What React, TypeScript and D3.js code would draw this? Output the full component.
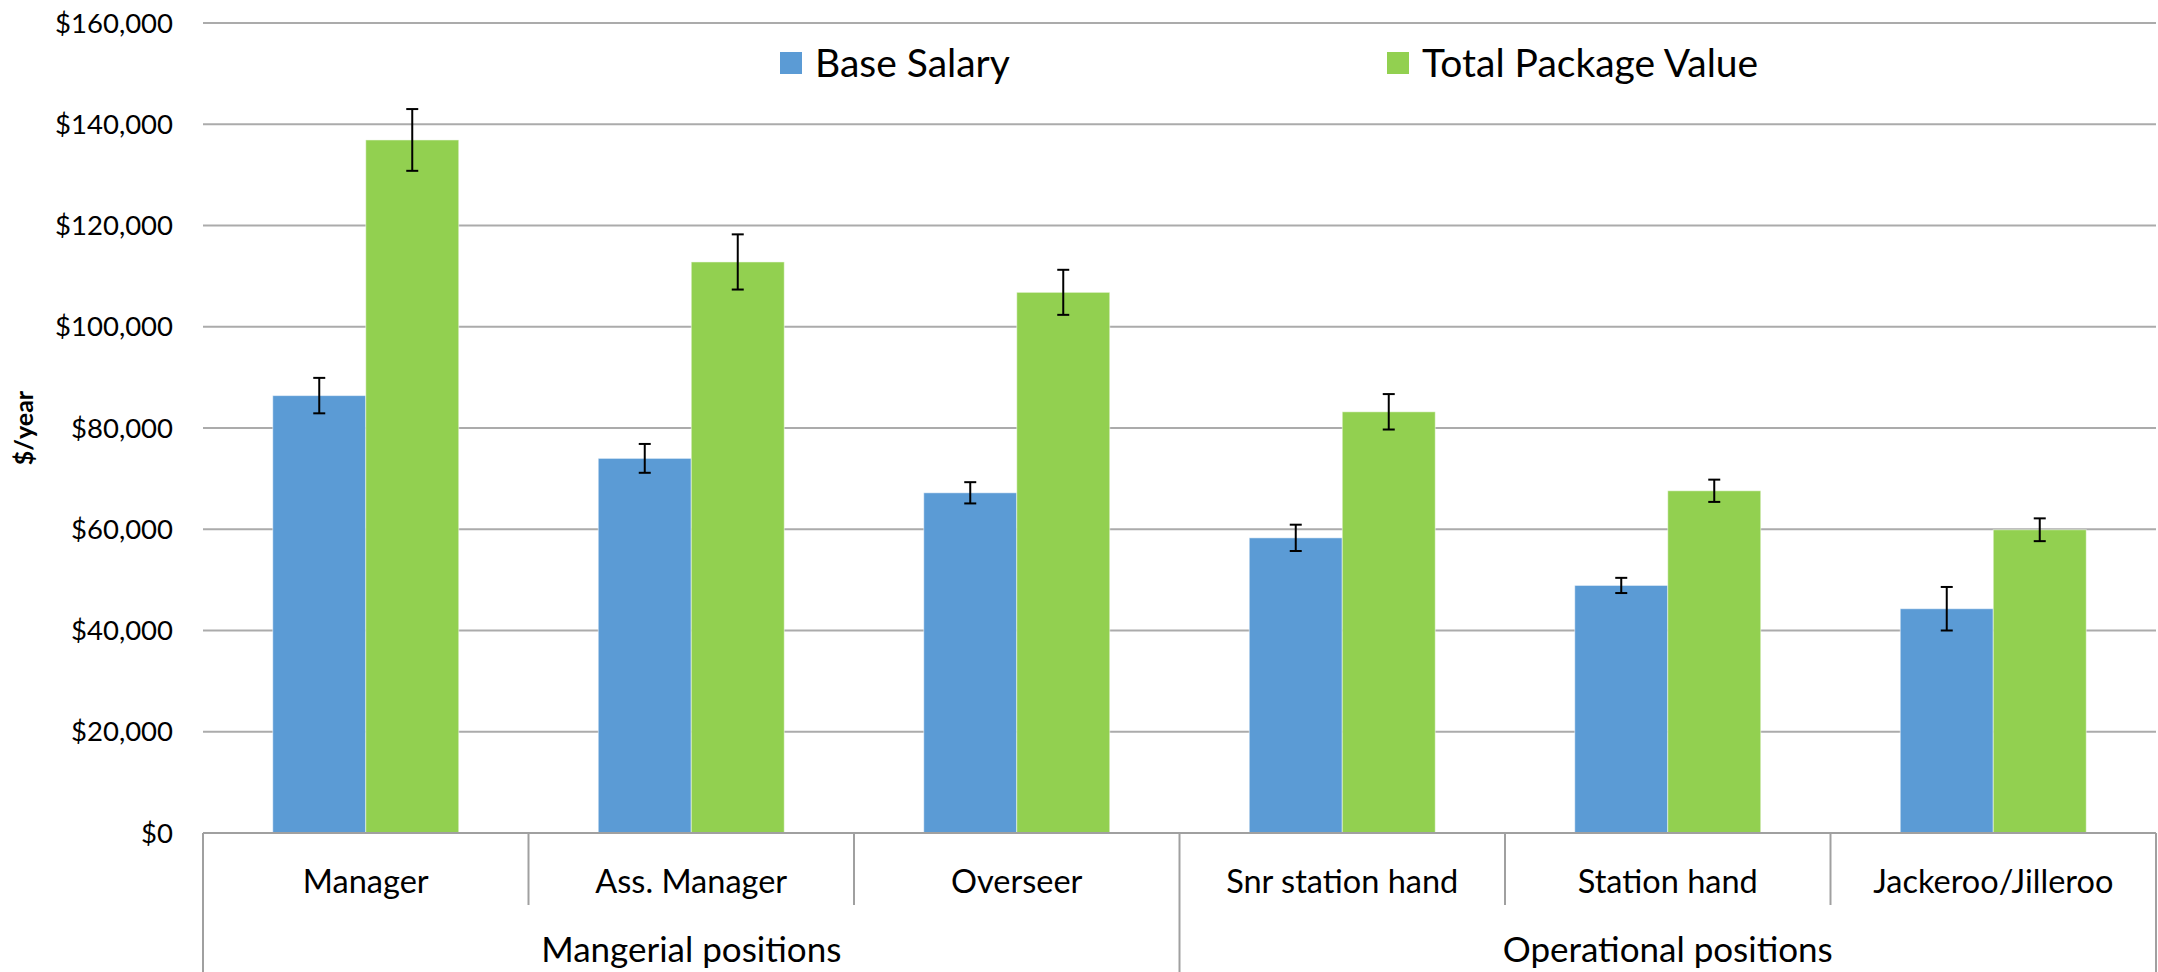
import * as d3 from "d3";
import { useRef, useEffect } from "react";

const categories = ["Manager", "Ass. Manager", "Overseer", "Snr station hand", "Station hand", "Jackeroo/Jilleroo"];
const groupNames = ["Mangerial positions", "Operational positions"];
const groupSizes = [3, 3];

const seriesNames = ["Base Salary", "Total Package Value"];
const baseSalary = [86400, 74000, 67200, 58300, 48900, 44300];
const baseSalaryErr = [3500, 2850, 2100, 2600, 1500, 4300];
const totalPackage = [136900, 112800, 106800, 83200, 67600, 59900];
const totalPackageErr = [6100, 5450, 4450, 3500, 2200, 2250];

const yTicks = [0, 20000, 40000, 60000, 80000, 100000, 120000, 140000, 160000];

const colors = ["#5b9bd5", "#92d050"];
const FONT = "Lato, 'Open Sans', sans-serif";

const App = () => {
    const ref = useRef(null);

    useEffect(() => {
        document.body.style.margin = "0";
        const W = 2158, H = 972;
        const margin = { left: 203, right: 2, top: 23, bottom: 139 };
        const width = W - margin.left - margin.right;
        const height = H - margin.top - margin.bottom;

        d3.select(ref.current).selectAll("*").remove();
        const root = d3.select(ref.current)
            .append("svg")
            .attr("width", W)
            .attr("height", H)
            .style("display", "block")
            .style("background", "#fff")
            .style("font-family", FONT);

        const g = root.append("g").attr("transform", `translate(${margin.left},${margin.top})`);

        const x = d3.scaleBand().domain(categories).range([0, width]).padding(0);
        const xs = d3.scaleBand().domain(seriesNames).range([0, x.bandwidth()]).paddingInner(0).paddingOuter(0.75);
        const y = d3.scaleLinear().domain([0, 160000]).range([height, 0]);

        // gridlines
        g.selectAll("line.grid")
            .data(yTicks.filter(d => d > 0))
            .enter().append("line")
            .attr("x1", 0).attr("x2", width)
            .attr("y1", d => y(d)).attr("y2", d => y(d))
            .attr("stroke", "#ababab").attr("stroke-width", 2);

        // y tick labels
        const fmt = d3.format("$,");
        g.selectAll("text.ytick")
            .data(yTicks)
            .enter().append("text")
            .attr("x", -30)
            .attr("y", d => y(d))
            .attr("dy", "0.35em")
            .attr("text-anchor", "end")
            .attr("font-size", 27.5)
            .attr("fill", "#000")
            .text(d => fmt(d));

        // y title
        root.append("text")
            .attr("transform", `translate(33,428) rotate(-90)`)
            .attr("text-anchor", "middle")
            .attr("font-size", 25)
            .attr("font-weight", "bold")
            .text("$/year");

        const series = [
            { name: seriesNames[0], values: baseSalary, errs: baseSalaryErr },
            { name: seriesNames[1], values: totalPackage, errs: totalPackageErr },
        ];

        series.forEach((s, si) => {
            const sg = g.append("g");
            sg.selectAll("rect")
                .data(categories)
                .enter().append("rect")
                .attr("x", c => x(c) + xs(s.name))
                .attr("y", (c, i) => y(s.values[i]))
                .attr("width", xs.bandwidth())
                .attr("height", (c, i) => height - y(s.values[i]))
                .attr("fill", colors[si])
                .attr("stroke", "#fff")
                .attr("stroke-opacity", 0.5)
                .attr("stroke-width", 1);

            // error bars
            const eg = sg.selectAll("g.err")
                .data(categories)
                .enter().append("g")
                .attr("stroke", "#000")
                .attr("stroke-width", 2);
            const cx = c => x(c) + xs(s.name) + xs.bandwidth() / 2;
            eg.append("line")
                .attr("x1", cx).attr("x2", cx)
                .attr("y1", (c, i) => y(s.values[i] + s.errs[i]))
                .attr("y2", (c, i) => y(s.values[i] - s.errs[i]));
            eg.append("line")
                .attr("x1", c => cx(c) - 6).attr("x2", c => cx(c) + 6)
                .attr("y1", (c, i) => y(s.values[i] + s.errs[i]))
                .attr("y2", (c, i) => y(s.values[i] + s.errs[i]));
            eg.append("line")
                .attr("x1", c => cx(c) - 6).attr("x2", c => cx(c) + 6)
                .attr("y1", (c, i) => y(s.values[i] - s.errs[i]))
                .attr("y2", (c, i) => y(s.values[i] - s.errs[i]));
        });

        // category axis
        const ax = g.append("g").attr("stroke", "#a0a0a0").attr("stroke-width", 2);
        ax.append("line").attr("x1", 0).attr("x2", width).attr("y1", height).attr("y2", height);

        const groupStarts = [];
        let acc = 0;
        groupSizes.forEach(n => { groupStarts.push(acc); acc += n; });

        categories.forEach((c, i) => {
            if (i === 0) return;
            const isGroupEdge = groupStarts.includes(i);
            ax.append("line")
                .attr("x1", x(c)).attr("x2", x(c))
                .attr("y1", height).attr("y2", isGroupEdge ? H : height + 72);
        });
        ax.append("line").attr("x1", 0).attr("x2", 0).attr("y1", height).attr("y2", H);
        ax.append("line").attr("x1", width).attr("x2", width).attr("y1", height).attr("y2", H);

        g.selectAll("text.cat")
            .data(categories)
            .enter().append("text")
            .attr("x", c => x(c) + x.bandwidth() / 2)
            .attr("y", height + 49)
            .attr("dy", "0.35em")
            .attr("text-anchor", "middle")
            .attr("font-size", 32.5)
            .text(c => c);

        groupNames.forEach((name, gi) => {
            const start = groupStarts[gi];
            const end = start + groupSizes[gi];
            const x0 = x(categories[start]);
            const x1 = x(categories[end - 1]) + x.bandwidth();
            g.append("text")
                .attr("x", (x0 + x1) / 2)
                .attr("y", height + 117)
                .attr("dy", "0.35em")
                .attr("text-anchor", "middle")
                .attr("font-size", 35)
                .text(name);
        });

        // legend
        const legendX = [780, 1387];
        seriesNames.forEach((name, i) => {
            const lg = root.append("g").attr("transform", `translate(${legendX[i]},63)`);
            lg.append("rect").attr("x", 0).attr("y", -11).attr("width", 22).attr("height", 22).attr("fill", colors[i]);
            lg.append("text")
                .attr("x", 35)
                .attr("y", 0)
                .attr("dy", "0.35em")
                .attr("font-size", 39)
                .text(name);
        });

        return () => {
            d3.select(ref.current).selectAll("*").remove();
        };
    }, []);

    return <div ref={ref}></div>;
};

export default App;
